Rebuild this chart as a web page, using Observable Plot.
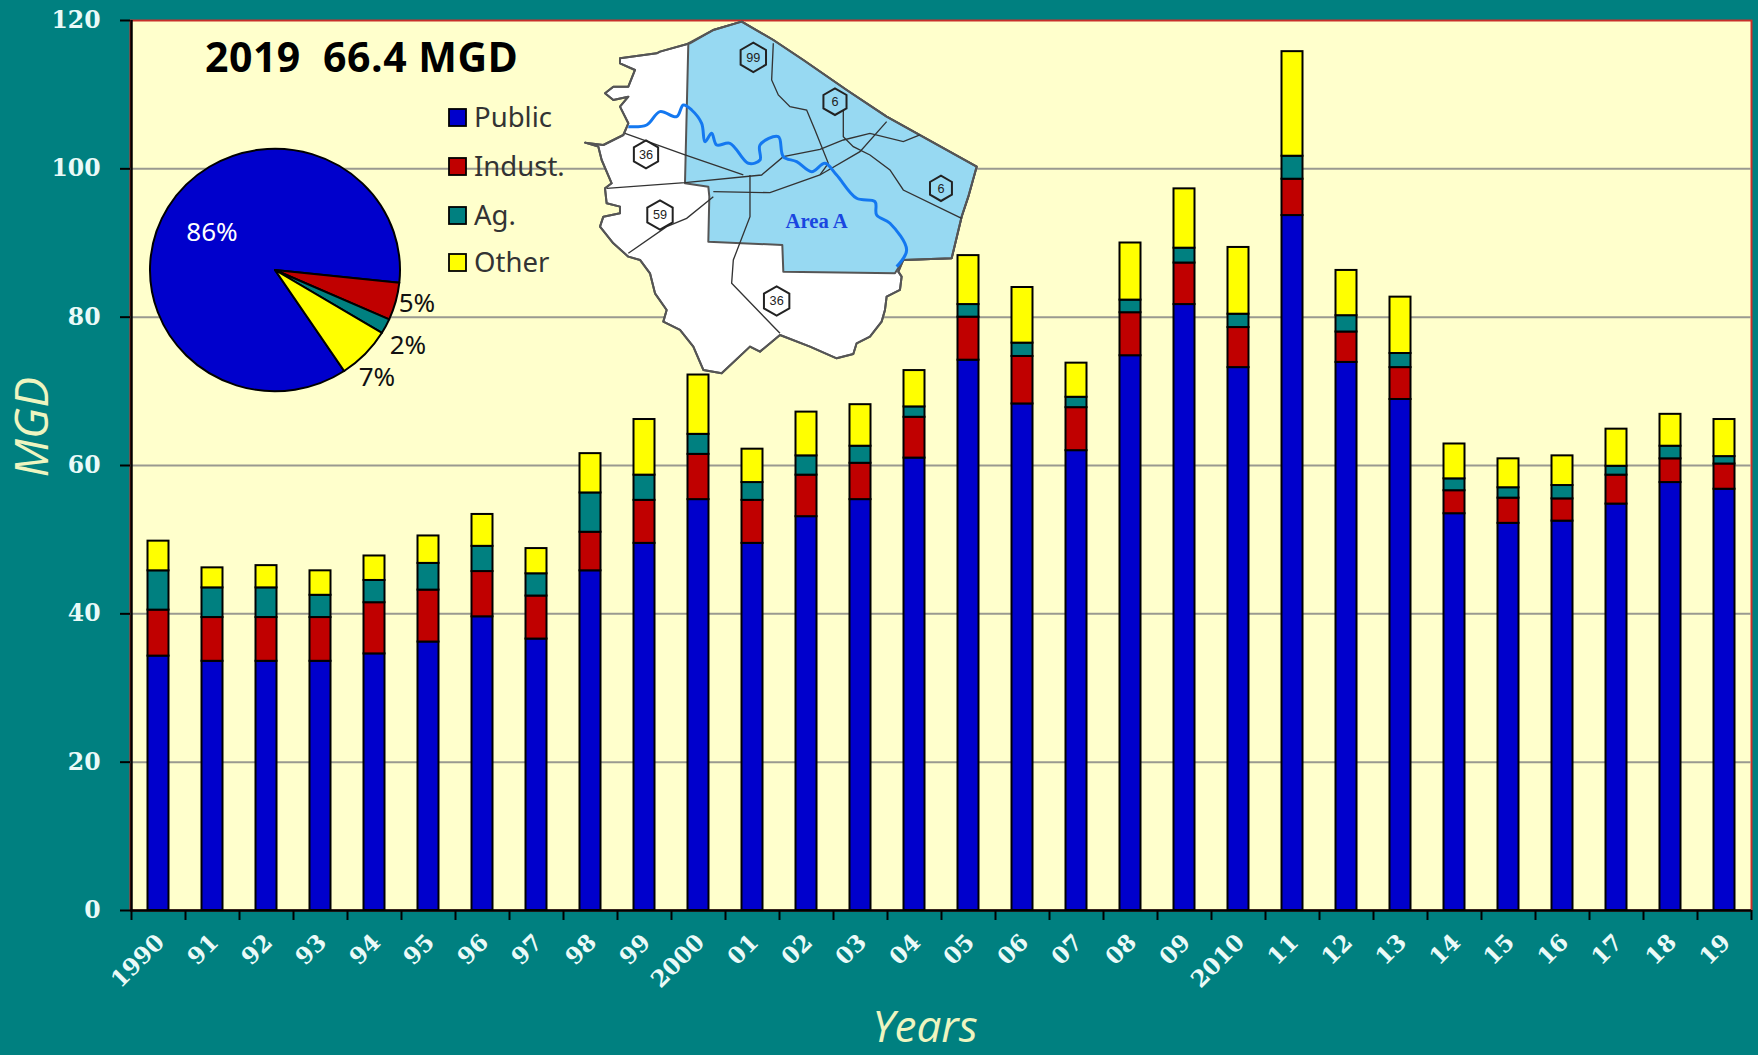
<!DOCTYPE html>
<html>
<head>
<meta charset="utf-8">
<script src="https://cdn.jsdelivr.net/npm/d3@7"></script>
<script src="https://cdn.jsdelivr.net/npm/@observablehq/plot@0.6"></script>
<style>
html,body{margin:0;padding:0;background:#008080;overflow:hidden}
</style>
</head>
<body>
<div id="chart"></div>
<script>
const years = ["1990","91","92","93","94","95","96","97","98","99","2000","01","02","03","04","05","06","07","08","09","2010","11","12","13","14","15","16","17","18","19"];
const seriesNames = ["Public","Indust.","Ag.","Other"];
const seriesColors = ["#0000cc","#c00000","#008080","#ffff00"];
const publicUse = [34.3,33.6,33.6,33.6,34.6,36.2,39.6,36.6,45.8,49.5,55.4,49.5,53.1,55.4,61.0,74.2,68.3,62.0,74.8,81.7,73.2,93.7,73.9,68.9,53.5,52.2,52.5,54.8,57.7,56.8];
const industrial = [6.2,5.9,5.9,5.9,6.9,7.0,6.1,5.8,5.2,5.8,6.1,5.8,5.6,4.9,5.5,5.8,6.4,5.8,5.8,5.6,5.4,4.9,4.1,4.3,3.1,3.4,3.0,3.9,3.2,3.4];
const agriculture = [5.3,4.0,4.0,3.0,3.0,3.6,3.4,3.0,5.3,3.4,2.7,2.4,2.6,2.3,1.4,1.7,1.8,1.4,1.7,2.0,1.8,3.1,2.2,1.9,1.6,1.4,1.8,1.2,1.7,1.0];
const other = [4.0,2.7,3.0,3.3,3.3,3.7,4.3,3.4,5.3,7.5,8.0,4.5,5.9,5.6,4.9,6.6,7.5,4.6,7.7,8.0,9.0,14.1,6.1,7.6,4.7,3.9,4.0,5.0,4.3,5.0];
const yTicks = [0,20,40,60,80,100,120];
const gridValues = [20,40,60,80,100];
const pieTitle = "2019  66.4 MGD";
const pieValues = [86,5,2,7];
const pieLabels = ["86%","5%","2%","7%"];

// Map of the county, in map units of the inset
const countyOutline = [[515,65],[610,120],[700,180],[830,270],[950,350],[1220,500],[1195,590],[1175,650],[1145,775],[1000,780],[985,815],[995,830],[990,870],[950,890],[945,930],[935,965],[900,1010],[860,1030],[850,1062],[800,1075],[720,1040],[630,1005],[570,1055],[540,1040],[455,1120],[400,1110],[370,1040],[330,990],[280,965],[290,930],[255,880],[240,820],[210,780],[175,770],[130,730],[90,680],[100,650],[150,640],[150,620],[110,610],[105,565],[125,550],[95,480],[85,440],[45,428],[100,435],[160,405],[175,370],[150,320],[175,290],[130,300],[105,280],[130,260],[175,260],[195,210],[150,190],[150,175],[260,160],[270,155],[360,130],[430,90]];
const areaA = [[515,65],[610,120],[700,180],[830,270],[950,350],[1220,500],[1195,590],[1175,650],[1145,775],[1000,780],[975,820],[640,815],[637,735],[415,725],[418,590],[415,560],[345,550],[355,130],[430,90]];
const river = [[175,380],[230,375],[270,335],[320,350],[340,315],[365,330],[395,370],[405,425],[425,400],[440,435],[480,430],[535,490],[570,480],[570,435],[625,410],[640,470],[680,485],[725,515],[765,490],[800,525],[860,595],[915,605],[920,645],[960,670],[1010,750],[980,800]];
const roads = [
  [[610,130],[605,240],[625,285],[660,320],[710,330],[735,390],[775,490],[750,525]],
  [[820,330],[820,410],[850,440],[900,465],[960,510],[1000,570],[1175,655]],
  [[165,400],[345,465],[520,525]],
  [[110,565],[345,548],[575,525],[640,470],[750,448],[820,420],[900,400],[1000,425],[1050,405]],
  [[430,575],[600,578],[750,525],[870,455],[950,365]],
  [[175,760],[290,680],[350,655],[430,590]],
  [[540,525],[540,650],[490,780],[485,850],[630,1000]]
];
const shields = [["99",550,172,44],["6",795,305,40],["6",1113,565,38],["36",228,463,42],["59",270,645,44],["36",620,903,44]];

const rows = seriesNames.flatMap((s, k) => {
  const vals = [publicUse, industrial, agriculture, other][k];
  return years.map((year, i) => ({year, series: s, value: vals[i]}));
});

function insetMark(index, scales, values, dim, ctx) {
  const svgNS = "http://www.w3.org/2000/svg";
  const g = d3.select(ctx.document.createElementNS(svgNS, "g")).attr("text-anchor", "start");

  // map
  const map = g.append("g").attr("transform", "translate(570,0) scale(0.3333)");
  const line = d3.line().curve(d3.curveLinear);
  map.append("path").attr("d", line(countyOutline) + "Z").attr("fill", "#ffffff").attr("stroke", "#555").attr("stroke-width", 6).attr("stroke-linejoin", "round");
  map.append("path").attr("d", line(areaA) + "Z").attr("fill", "#97d9f2").attr("stroke", "#555").attr("stroke-width", 6).attr("stroke-linejoin", "round");
  map.append("path").attr("d", line(countyOutline) + "Z").attr("fill", "none").attr("stroke", "#555").attr("stroke-width", 6).attr("stroke-linejoin", "round");
  roads.forEach(r => map.append("path").attr("d", line(r)).attr("fill", "none").attr("stroke", "#333").attr("stroke-width", 4));
  map.append("path").attr("d", d3.line().curve(d3.curveCatmullRom)(river)).attr("fill", "none").attr("stroke", "#1478f0").attr("stroke-width", 9);
  shields.forEach(([t, x, y, r]) => {
    const pts = d3.range(6).map(k => [x + r * Math.cos(Math.PI / 3 * k + Math.PI / 6), y + r * Math.sin(Math.PI / 3 * k + Math.PI / 6)]);
    map.append("path").attr("d", line(pts) + "Z").attr("fill", "none").attr("stroke", "#222").attr("stroke-width", 6);
    map.append("text").attr("x", x).attr("y", y + 13).attr("text-anchor", "middle").attr("font-family", "Liberation Sans").attr("font-size", 38).attr("fill", "#222").text(t);
  });
  map.append("text").attr("x", 740).attr("y", 683).attr("text-anchor", "middle").attr("font-family", "Liberation Serif").attr("font-weight", "bold").attr("font-size", 62).attr("fill", "#1a46e0").text("Area A");

  // pie
  const cx = 275, cy = 270, R = 125;
  const arcs = d3.pie().sort(null).startAngle(146.4 * Math.PI / 180).endAngle((146.4 + 360) * Math.PI / 180)(pieValues);
  const arc = d3.arc().innerRadius(0).outerRadius(R);
  const pie = g.append("g").attr("transform", `translate(${cx},${cy}) scale(1,0.97)`);
  arcs.forEach((a, k) => pie.append("path").attr("d", arc(a)).attr("fill", seriesColors[k]).attr("stroke", "#000").attr("stroke-width", 2).attr("stroke-linejoin", "round"));
  const labelAt = [[212, 241, "#fff"], [417, 312, "#111"], [408, 354, "#111"], [377, 386, "#111"]];
  pieLabels.forEach((t, k) => g.append("text").attr("x", labelAt[k][0]).attr("y", labelAt[k][1]).attr("text-anchor", "middle").attr("font-family", "Noto Sans").attr("font-size", 26).attr("fill", labelAt[k][2]).text(t));

  // legend
  const rowY = [118, 167, 216, 263];
  seriesNames.forEach((s, k) => {
    g.append("rect").attr("x", 449).attr("y", rowY[k] - 9).attr("width", 17).attr("height", 17).attr("fill", seriesColors[k]).attr("stroke", "#000").attr("stroke-width", 1.8);
    g.append("text").attr("x", 474).attr("y", rowY[k] + 9).attr("font-family", "Noto Sans").attr("font-size", 27.5).attr("fill", "#333").text(s);
  });

  // title
  g.append("text").attr("x", 205).attr("y", 72).attr("font-family", "Open Sans").attr("font-weight", "bold").attr("font-size", 41).attr("letter-spacing", 0.5).attr("fill", "#000").style("white-space", "pre").text(pieTitle);
  return g.node();
}

const plot = Plot.plot({
  width: 1758,
  height: 1055,
  marginLeft: 130,
  marginRight: 7,
  marginTop: 20,
  marginBottom: 145,
  style: {background: "#008080", overflow: "visible"},
  x: {type: "band", domain: years, padding: 0, label: null},
  y: {domain: [0, 120], label: null},
  color: {domain: seriesNames, range: seriesColors},
  marks: [
    Plot.frame({fill: "#ffffcc", stroke: "#c8302a", strokeWidth: 2}),
    Plot.ruleY(gridValues, {stroke: "#9a9a90", strokeWidth: 2}),
    Plot.barY(rows, Plot.stackY({x: "year", y: "value", fill: "series", order: seriesNames, stroke: "#000", strokeWidth: 2, insetLeft: 16.5, insetRight: 16.5})),
    insetMark,
    Plot.ruleY([0], {stroke: "#000", strokeWidth: 2.5}),
    Plot.ruleX(years.slice(0, 1), {x: d => d, dx: -27, y1: 0, y2: 120, stroke: "#000", strokeWidth: 2.5}),
    Plot.ruleX(years, {x: d => d, dx: -27, y1: 0, y2: -1.35, stroke: "#000", strokeWidth: 2}),
    Plot.ruleX(years.slice(-1), {x: d => d, dx: 27, y1: 0, y2: -1.35, stroke: "#000", strokeWidth: 2}),
    Plot.axisX({
      tickSize: 0,
      tickRotate: -45,
      tickPadding: 28,
      textAnchor: "end",
      dx: 2,
      label: null,
      color: "#eafaf8",
      fontFamily: "DejaVu Serif",
      fontSize: 23,
      fontWeight: "bold"
    }),
    Plot.axisY({
      ticks: yTicks,
      tickSize: 10,
      tickPadding: 20,
      stroke: "#000",
      strokeWidth: 2,
      label: null,
      color: "#eafaf8",
      fontFamily: "DejaVu Serif",
      fontSize: 23.5,
      fontWeight: "bold",
      tickFormat: d => d
    }),
    Plot.text(["Years"], {frameAnchor: "bottom", dx: -16, dy: 131, text: d => d, fill: "#eef5c0", fontFamily: "Open Sans", fontStyle: "italic", fontSize: 44, letterSpacing: 1.5}),
    Plot.text(["MGD"], {frameAnchor: "left", dx: -97, dy: 12, rotate: -90, text: d => d, fill: "#eef5c0", fontFamily: "Open Sans", fontStyle: "italic", fontSize: 46, letterSpacing: 4})
  ]
});
document.getElementById("chart").appendChild(plot);
</script>
</body>
</html>
